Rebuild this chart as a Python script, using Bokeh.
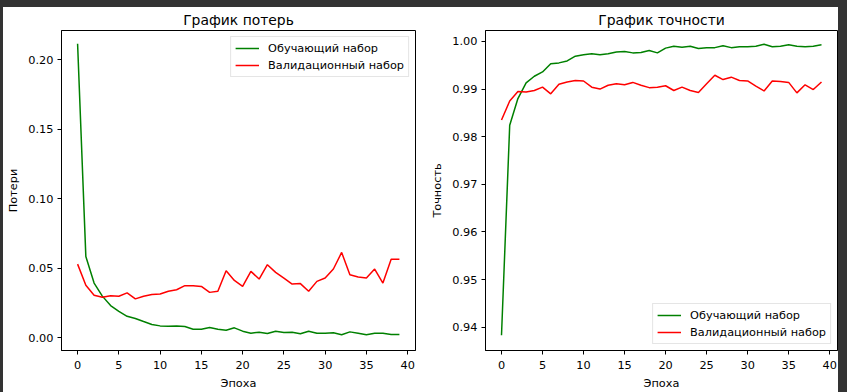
from bokeh.plotting import figure
from bokeh.layouts import row
from bokeh.models import Range1d, FixedTicker, NumeralTickFormatter, Legend, LegendItem
from bokeh.embed import file_html
from bokeh.resources import INLINE

epochs = list(range(40))

loss_train = [0.2115, 0.0585, 0.0394, 0.0300, 0.0232, 0.0190, 0.0155, 0.0139, 0.0117, 0.0096,
              0.0086, 0.0084, 0.0086, 0.0081, 0.0062, 0.0062, 0.0074, 0.0062, 0.0055, 0.0072,
              0.0048, 0.0033, 0.0041, 0.0031, 0.0048, 0.0038, 0.0041, 0.0029, 0.0048, 0.0033,
              0.0033, 0.0036, 0.0022, 0.0043, 0.0033, 0.0022, 0.0033, 0.0033, 0.0024, 0.0024]
loss_val = [0.0530, 0.0378, 0.0306, 0.0292, 0.0303, 0.0299, 0.0323, 0.0280, 0.0299, 0.0311,
            0.0315, 0.0335, 0.0346, 0.0375, 0.0375, 0.0370, 0.0327, 0.0335, 0.0483, 0.0413,
            0.0370, 0.0478, 0.0423, 0.0526, 0.0471, 0.0430, 0.0387, 0.0390, 0.0335, 0.0406,
            0.0430, 0.0495, 0.0614, 0.0454, 0.0437, 0.0430, 0.0495, 0.0394, 0.0566, 0.0566]
acc_train = [0.9383, 0.9824, 0.9880, 0.9913, 0.9927, 0.9936, 0.9953, 0.9955, 0.9959, 0.9969,
             0.9972, 0.9974, 0.9972, 0.9974, 0.9978, 0.9979, 0.9976, 0.9977, 0.9981, 0.9976,
             0.9986, 0.9990, 0.9988, 0.9990, 0.9985, 0.9987, 0.9987, 0.9991, 0.9987, 0.9989,
             0.9989, 0.9990, 0.9994, 0.9989, 0.9990, 0.9993, 0.9990, 0.9989, 0.9990, 0.9993]
acc_val = [0.9835, 0.9875, 0.9895, 0.9894, 0.9897, 0.9904, 0.9890, 0.9910, 0.9915, 0.9918,
           0.9917, 0.9904, 0.9900, 0.9908, 0.9911, 0.9909, 0.9914, 0.9908, 0.9903, 0.9904,
           0.9907, 0.9897, 0.9904, 0.9897, 0.9893, 0.9911, 0.9929, 0.9920, 0.9925, 0.9918,
           0.9917, 0.9906, 0.9896, 0.9917, 0.9916, 0.9914, 0.9892, 0.9909, 0.9899, 0.9915]

x_ticks = [0, 5, 10, 15, 20, 25, 30, 35, 40]
loss_ticks = [0.00, 0.05, 0.10, 0.15, 0.20]
acc_ticks = [0.94, 0.95, 0.96, 0.97, 0.98, 0.99, 1.00]

titles = ["График потерь", "График точности"]
ylabels = ["Потери", "Точность"]
xlabel = "Эпоха"
series_names = ["Обучающий набор", "Валидационный набор"]
colors = ["#008000", "#ff0000"]

FONT = "DejaVu Sans"
TICK_FS = "11.3px"
TITLE_FS = "13.9px"


def make_fig(width, ml, mr, yr, yticks, title, ylabel, ys, legend_loc):
    p = figure(width=width, height=385, output_backend="svg", toolbar_location=None,
               x_range=Range1d(-1.95, 40.95), y_range=yr,
               min_border_left=ml, min_border_right=mr, min_border_top=23, min_border_bottom=41)
    p.background_fill_color = "white"
    p.border_fill_color = "white"
    p.outline_line_color = "black"
    p.outline_line_alpha = 1.0
    p.outline_line_width = 1
    p.grid.visible = False
    p.title.text = title
    p.title.align = "center"
    p.title.text_font = FONT
    p.title.text_font_size = TITLE_FS
    p.title.text_font_style = "normal"
    p.title.text_color = "black"
    p.title.standoff = 5
    for ax in (p.xaxis[0], p.yaxis[0]):
        ax.major_tick_out = 4
        ax.major_tick_in = 0
        ax.minor_tick_out = 0
        ax.minor_tick_in = 0
        ax.major_label_text_font = FONT
        ax.major_label_text_font_size = TICK_FS
        ax.major_label_text_color = "black"
        ax.axis_label_text_font = FONT
        ax.axis_label_text_font_size = TICK_FS
        ax.axis_label_text_font_style = "normal"
        ax.axis_label_text_color = "black"
        ax.axis_line_color = "black"
        ax.major_tick_line_color = "black"
        ax.major_label_standoff = 4
    p.xaxis[0].ticker = FixedTicker(ticks=x_ticks)
    p.xaxis[0].axis_label = xlabel
    p.xaxis[0].major_label_standoff = 6
    p.xaxis[0].axis_label_standoff = 5
    p.yaxis[0].ticker = FixedTicker(ticks=yticks)
    p.yaxis[0].formatter = NumeralTickFormatter(format="0.00")
    p.yaxis[0].axis_label = ylabel
    p.yaxis[0].axis_label_standoff = 5

    items = []
    for name, c, y in zip(series_names, colors, ys):
        r = p.line(epochs, y, line_color=c, line_width=1.5)
        items.append(LegendItem(label=name, renderers=[r]))
    leg = Legend(items=items, location=legend_loc)
    leg.margin = 6
    leg.padding = 4
    leg.spacing = 3
    leg.glyph_width = 24
    leg.glyph_height = 14
    leg.label_height = 14
    leg.label_standoff = 9
    leg.label_text_font = FONT
    leg.label_text_font_size = TICK_FS
    leg.label_text_color = "black"
    leg.border_line_color = "#cccccc"
    leg.border_line_width = 1
    leg.background_fill_color = "white"
    leg.background_fill_alpha = 0.8
    p.add_layout(leg, "center")
    return p


p1 = make_fig(422, 58, 10, Range1d(-0.0091, 0.221), loss_ticks, titles[0], ylabels[0],
              [loss_train, loss_val], "top_right")
p2 = make_fig(413, 60, 1, Range1d(0.9351, 1.0023), acc_ticks, titles[1], ylabels[1],
              [acc_train, acc_val], "bottom_right")

layout = row(p1, p2, spacing=0,
             styles={"background-color": "white", "gap": "0px",
                     "border-top": "7px solid #333333", "border-left": "3px solid #333333",
                     "border-right": "9px solid #333333"})
open("out.html", "w").write(file_html(layout, INLINE))
